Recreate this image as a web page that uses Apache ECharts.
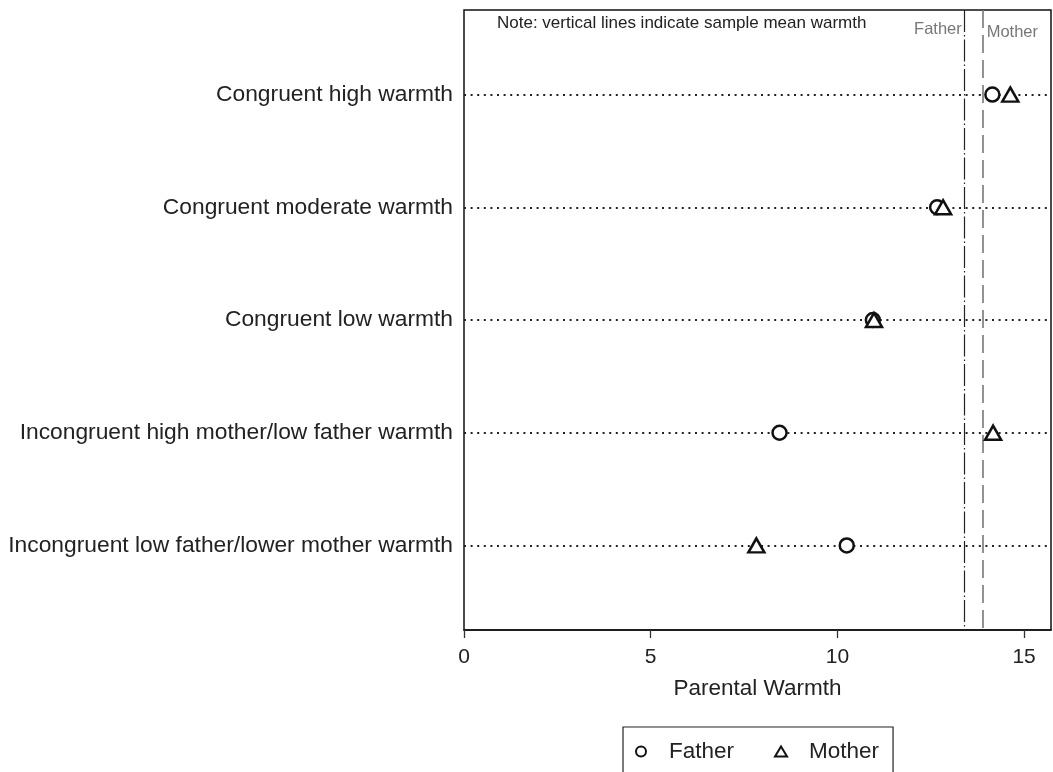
<!DOCTYPE html>
<html>
<head>
<meta charset="utf-8">
<script src="https://cdn.jsdelivr.net/npm/echarts@6/dist/echarts.min.js"></script>
<style>html,body{margin:0;padding:0;background:#fff}#c{width:1053px;height:772px}</style>
</head>
<body>
<div id="c"></div>
<script>
const categories = [
  'Congruent high warmth',
  'Congruent moderate warmth',
  'Congruent low warmth',
  'Incongruent high mother/low father warmth',
  'Incongruent low father/lower mother warmth'
];
const fatherWarmth = [14.15, 12.67, 10.95, 8.45, 10.25];
const motherWarmth = [14.63, 12.83, 10.98, 14.17, 7.83];
const meanLabels = ['Father', 'Mother'];
const meanWarmth = [13.41, 13.89];
const xTicks = [0, 5, 10, 15];
const noteText = 'Note: vertical lines indicate sample mean warmth';

const FONT = '"Liberation Sans", Arial, Helvetica, sans-serif';
const chart = echarts.init(document.getElementById('c'), null, {renderer: 'canvas'});

const fatherData = fatherWarmth.map((v, i) => [v, i + 1]);
const motherData = motherWarmth.map((v, i) => [v, i + 1]);

const option = {
  backgroundColor: '#fff',
  animation: false,
  textStyle: {fontFamily: FONT},
  grid: {
    left: 464, right: 2, top: 10, bottom: 142,
    show: true, borderColor: '#111', borderWidth: 1.5, backgroundColor: 'transparent'
  },
  xAxis: {
    type: 'value', min: 0, max: 15.72, interval: 5,
    name: 'Parental Warmth', nameLocation: 'middle', nameGap: 47,
    nameTextStyle: {fontSize: 22.5, color: '#222', fontFamily: FONT},
    axisLine: {show: true, lineStyle: {color: '#111', width: 1.5}},
    axisTick: {show: true, length: 8, lineStyle: {color: '#333', width: 1.3}, customValues: xTicks},
    axisLabel: {fontSize: 21, color: '#222', margin: 17, fontFamily: FONT, customValues: xTicks},
    splitLine: {show: false}
  },
  yAxis: {
    type: 'value', inverse: true, min: 0.25, max: 5.75,
    axisLine: {show: false},
    axisTick: {show: false},
    splitLine: {show: false},
    axisLabel: {
      fontSize: 22.8, color: '#222', margin: 11, fontFamily: FONT,
      customValues: categories.map((c, i) => i + 1),
      formatter: v => categories[Math.round(v) - 1] || ''
    }
  },
  legend: {
    data: ['Father', 'Mother'],
    left: 623, top: 727,
    orient: 'horizontal',
    borderColor: '#222', borderWidth: 1.2,
    padding: [13, 14, 30, 12],
    itemGap: 40, itemWidth: 12, itemHeight: 10,
    itemStyle: {borderWidth: 2},
    textStyle: {fontSize: 22.5, color: '#222', fontFamily: FONT, padding: [0, 0, 0, 17]}
  },
  graphic: [{
    type: 'text', left: 497, top: 15,
    style: {text: noteText, fontSize: 17, fill: '#222', fontFamily: FONT}
  }],
  series: [
    {
      name: 'Father', type: 'scatter', data: fatherData,
      symbol: 'circle', symbolSize: 14, z: 5,
      itemStyle: {color: '#fff', borderColor: '#111', borderWidth: 2.5, opacity: 1},
      markLine: {
        silent: true, symbol: 'none', animation: false,
        label: {show: false},
        lineStyle: {color: '#222', type: [2, 4.6], width: 1.8},
        data: categories.map((c, i) => ({yAxis: i + 1}))
      },
      markPoint: {
        silent: true, symbolSize: 0,
        data: [{
          coord: [meanWarmth[0], 0.42],
          label: {show: true, position: 'left', distance: 3, formatter: meanLabels[0], fontSize: 16.5, color: '#777', fontFamily: FONT}
        }]
      }
    },
    {
      name: 'Mother', type: 'scatter', data: motherData,
      symbol: 'triangle', symbolSize: [16, 14], z: 5,
      itemStyle: {color: '#fff', borderColor: '#111', borderWidth: 2.5, opacity: 1},
      markLine: {
        silent: true, symbol: 'none', animation: false,
        label: {show: false},
        data: [
          {xAxis: meanWarmth[0], lineStyle: {color: '#222', type: [22, 3, 1.5, 3], width: 1.2}},
          {xAxis: meanWarmth[1], lineStyle: {color: '#777', type: [18, 7], width: 1.6}}
        ]
      },
      markPoint: {
        silent: true, symbolSize: 0,
        data: [{
          coord: [meanWarmth[1], 0.445],
          label: {show: true, position: 'right', distance: 4, formatter: meanLabels[1], fontSize: 16.5, color: '#777', fontFamily: FONT}
        }]
      }
    }
  ]
};
chart.setOption(option);
</script>
</body>
</html>
